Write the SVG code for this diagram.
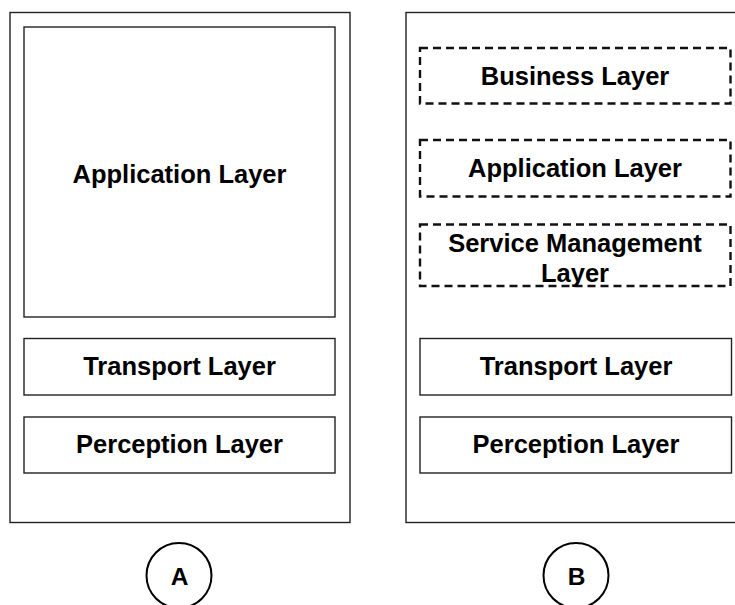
<svg xmlns="http://www.w3.org/2000/svg" width="735" height="605" viewBox="0 0 735 605">
  <style>
    .frame { fill: #ffffff; stroke: #222222; stroke-width: 1.4; }
    .layer { fill: #ffffff; stroke: #222222; stroke-width: 1.4; }
    .dashed { fill: #ffffff; stroke: #111111; stroke-width: 2.4; stroke-dasharray: 8 5; }
    .badge { fill: #ffffff; stroke: #000000; stroke-width: 2; }
    .label { font-family: "Liberation Sans", Arial, Helvetica, sans-serif; font-weight: bold; font-size: 25.5px; fill: #000000; text-anchor: middle; }
    .tag { font-family: "Liberation Sans", Arial, Helvetica, sans-serif; font-weight: bold; font-size: 24.5px; fill: #000000; text-anchor: middle; }
  </style>
  <rect width="735" height="605" fill="#ffffff"/>

  <!-- Stack A -->
  <g id="stack-a">
    <rect class="frame" x="10" y="12.5" width="340" height="510"/>
  </g>
  <g id="a-application">
    <rect class="layer" x="24" y="27" width="311" height="290"/>
    <text class="label" x="179.5" y="183">Application Layer</text>
  </g>
  <g id="a-transport">
    <rect class="layer" x="24" y="338.5" width="311" height="56.5"/>
    <text class="label" x="179.5" y="375">Transport Layer</text>
  </g>
  <g id="a-perception">
    <rect class="layer" x="24" y="417" width="311" height="56"/>
    <text class="label" x="179.5" y="453">Perception Layer</text>
  </g>
  <g id="badge-a">
    <circle class="badge" cx="179" cy="575.5" r="32.5"/>
    <text class="tag" x="179.5" y="585">A</text>
  </g>

  <!-- Stack B -->
  <g id="stack-b">
    <rect class="frame" x="406" y="12.5" width="340" height="510"/>
  </g>
  <g id="b-business">
    <rect class="dashed" x="420" y="48" width="310.5" height="55.5"/>
    <text class="label" x="575" y="85">Business Layer</text>
  </g>
  <g id="b-application">
    <rect class="dashed" x="420" y="140" width="310.5" height="56.5"/>
    <text class="label" x="575" y="177">Application Layer</text>
  </g>
  <g id="b-service">
    <rect class="dashed" x="420" y="224.5" width="310.5" height="61.5"/>
    <text class="label" x="575" y="252">Service Management</text>
    <text class="label" x="575" y="282">Layer</text>
  </g>
  <g id="b-transport">
    <rect class="layer" x="420" y="338.5" width="311.5" height="56.5"/>
    <text class="label" x="576" y="375">Transport Layer</text>
  </g>
  <g id="b-perception">
    <rect class="layer" x="420" y="417" width="311.5" height="56"/>
    <text class="label" x="576" y="453">Perception Layer</text>
  </g>
  <g id="badge-b">
    <circle class="badge" cx="576" cy="575.5" r="32.5"/>
    <text class="tag" x="576.5" y="585">B</text>
  </g>

  <!-- no connectors in this figure -->
  <g id="connectors"/>
</svg>
